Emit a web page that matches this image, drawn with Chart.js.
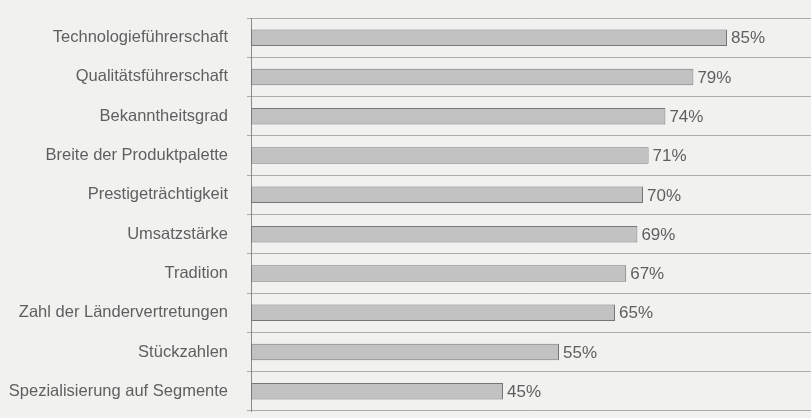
<!DOCTYPE html>
<html>
<head>
<meta charset="utf-8">
<script src="https://cdn.jsdelivr.net/npm/chart.js@4"></script>
<style>
  html, body { margin: 0; padding: 0; background: #f1f1f0; }
  #wrap { width: 811px; height: 418px; }
</style>
</head>
<body>
<div id="wrap"><canvas id="bar-chart-horizontal"></canvas></div>
<script>
var kriterien = ["Technologieführerschaft", "Qualitätsführerschaft", "Bekanntheitsgrad", "Breite der Produktpalette", "Prestigeträchtigkeit", "Umsatzstärke", "Tradition", "Zahl der Ländervertretungen", "Stückzahlen", "Spezialisierung auf Segmente"];
var anteile = [85, 79, 74, 71, 70, 69, 67, 65, 55, 45];

// Prozentwerte rechts neben die Balken schreiben
var valueLabels = {
  id: 'valueLabels',
  afterDatasetsDraw: function(chart) {
    var ctx = chart.ctx;
    var meta = chart.getDatasetMeta(0);
    ctx.save();
    ctx.font = '17px "Liberation Sans", Arial, sans-serif';
    ctx.fillStyle = '#5f5f5f';
    ctx.textAlign = 'left';
    ctx.textBaseline = 'middle';
    meta.data.forEach(function(bar, i) {
      ctx.fillText(anteile[i] + '%', bar.x + 4, bar.y + 1);
    });
    ctx.restore();
  }
};

new Chart(document.getElementById("bar-chart-horizontal"), {
    type: 'bar',
    data: {
      labels: kriterien,
      datasets: [
        {
          label: "Anteil",
          backgroundColor: "#c2c2c2",
          borderColor: "#777777",
          borderWidth: 1,
          borderSkipped: false,
          barPercentage: 0.42,
          categoryPercentage: 1,
          data: anteile
        }
      ]
    },
    options: {
      indexAxis: 'y',
      responsive: true,
      maintainAspectRatio: false,
      animation: false,
      layout: { padding: { top: 18, bottom: 7, left: 0, right: 0 } },
      plugins: {
        legend: { display: false },
        tooltip: { enabled: false },
        title: { display: false }
      },
      scales: {
        x: {
          display: false,
          min: 0,
          max: 100
        },
        y: {
          afterFit: function(scale) {
            scale.width = 251;
            scale.paddingTop = 0;
            scale.paddingBottom = 0;
          },
          grid: {
            offset: true,
            color: '#acacac',
            lineWidth: 1,
            tickLength: 4,
            drawOnChartArea: true
          },
          border: { display: true, color: '#8a8a8a', width: 1 },
          ticks: {
            padding: 19,
            color: '#5f5f5f',
            font: { family: '"Liberation Sans", Arial, sans-serif', size: 16.5 }
          }
        }
      }
    },
    plugins: [valueLabels]
});
</script>
</body>
</html>
